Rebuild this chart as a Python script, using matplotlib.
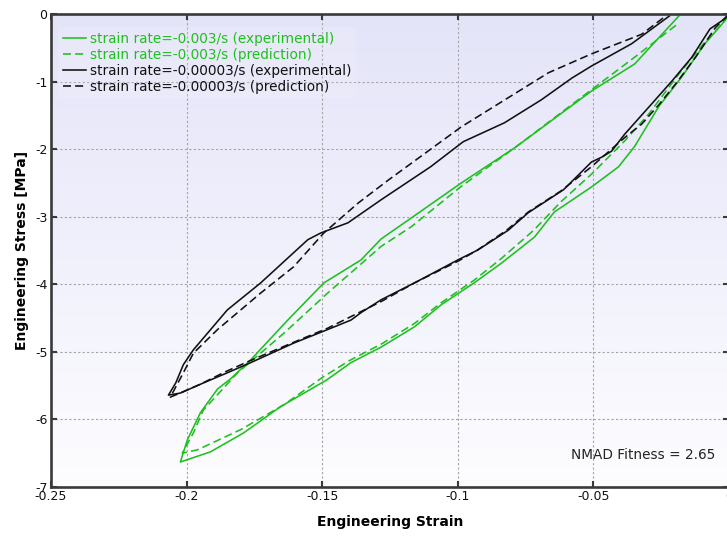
import numpy as np
import matplotlib
matplotlib.use("Agg")
import matplotlib.pyplot as plt

# ---- data ----
green_exp_x = [0.0, -0.0015, -0.0089, -0.0174, -0.0259, -0.0348, -0.0407, -0.0507, -0.0644,
               -0.0717, -0.084, -0.094, -0.106, -0.116, -0.1283, -0.1394, -0.1485, -0.1653,
               -0.179, -0.1912, -0.2023,
               -0.1997, -0.1949, -0.1886, -0.1838, -0.1764, -0.1627, -0.1494, -0.1357, -0.1283,
               -0.1172, -0.0987, -0.079, -0.0507, -0.0348, -0.0185]
green_exp_y = [0.0, -0.1, -0.44, -0.93, -1.37, -1.96, -2.26, -2.56, -2.93,
               -3.3, -3.69, -3.98, -4.3, -4.63, -4.93, -5.16, -5.42, -5.81,
               -6.2, -6.48, -6.63,
               -6.3, -5.9, -5.55, -5.4, -5.12, -4.53, -3.98, -3.64, -3.33,
               -3.02, -2.5, -1.98, -1.14, -0.74, -0.03]

green_pred_x = [0.0, -0.002, -0.009, -0.0185, -0.0296, -0.0385, -0.0507, -0.062, -0.072,
                -0.084, -0.094, -0.106, -0.116, -0.128, -0.14, -0.15, -0.164, -0.18, -0.196,
                -0.2016,
                -0.1975, -0.1938, -0.1812, -0.164, -0.148, -0.1283, -0.1172, -0.0987, -0.079,
                -0.0507, -0.0348, -0.019]
green_pred_y = [0.0, -0.12, -0.42, -0.89, -1.48, -1.88, -2.37, -2.78, -3.2,
                -3.62, -3.94, -4.27, -4.58, -4.88, -5.13, -5.38, -5.78, -6.15, -6.45,
                -6.5,
                -6.2, -5.86, -5.31, -4.72, -4.13, -3.44, -3.15, -2.55, -1.98,
                -1.12, -0.64, -0.15]

black_exp_x = [0.0, -0.0015, -0.007, -0.0137, -0.021, -0.0285, -0.0385, -0.0433, -0.047,
               -0.0507, -0.061, -0.074, -0.0814, -0.0925, -0.1, -0.116, -0.1283, -0.1357,
               -0.1394, -0.148, -0.1605, -0.1764, -0.185, -0.1938, -0.2023, -0.2067,
               -0.204, -0.2012, -0.1975, -0.185, -0.1727, -0.1553, -0.1505, -0.1405, -0.1283,
               -0.11, -0.098, -0.0828, -0.0692, -0.058, -0.0507, -0.0359, -0.022]
black_exp_y = [0.0, -0.07, -0.22, -0.64, -0.99, -1.33, -1.78, -2.03, -2.12,
               -2.19, -2.6, -2.94, -3.2, -3.49, -3.64, -3.98, -4.23, -4.42,
               -4.53, -4.67, -4.87, -5.16, -5.31, -5.46, -5.61, -5.64,
               -5.46, -5.19, -4.97, -4.38, -3.98, -3.34, -3.24, -3.09, -2.75,
               -2.26, -1.89, -1.61, -1.27, -0.95, -0.77, -0.44, -0.03]

black_pred_x = [0.0, -0.005, -0.012, -0.019, -0.026, -0.0322, -0.0385, -0.0507, -0.062,
                -0.074, -0.082, -0.093, -0.1, -0.116, -0.128, -0.138, -0.148, -0.16, -0.176,
                -0.186, -0.195, -0.203, -0.206,
                -0.2012, -0.1975, -0.1886, -0.1727, -0.1605, -0.1494, -0.1368, -0.1257,
                -0.0987, -0.0666, -0.0507, -0.0322, -0.024]
black_pred_y = [0.0, -0.2, -0.62, -1.0, -1.35, -1.63, -1.83, -2.26, -2.62,
                -2.93, -3.2, -3.5, -3.66, -3.98, -4.25, -4.45, -4.65, -4.85, -5.12,
                -5.3, -5.48, -5.62, -5.67,
                -5.31, -5.02, -4.67, -4.13, -3.74, -3.24, -2.8, -2.46,
                -1.67, -0.87, -0.59, -0.3, -0.05]

series_labels = ["strain rate=-0.003/s (experimental)",
                 "strain rate=-0.003/s (prediction)",
                 "strain rate=-0.00003/s (experimental)",
                 "strain rate=-0.00003/s (prediction)"]
x_ticks = [-0.25, -0.2, -0.15, -0.1, -0.05, 0]
x_tick_labels = ["-0.25", "-0.2", "-0.15", "-0.1", "-0.05", "0"]
y_ticks = [0, -1, -2, -3, -4, -5, -6, -7]
y_tick_labels = ["0", "-1", "-2", "-3", "-4", "-5", "-6", "-7"]
annotation = "NMAD Fitness = 2.65"

# ---- styling ----
plt.rcParams['font.family'] = ['DejaVu Sans']
GREEN = "#1ec01e"
BLACK = "#111111"
SPINE = "#3a3a3a"

W, H = 727, 536
fig = plt.figure(figsize=(W / 100, H / 100), dpi=100)
ax = fig.add_axes([51 / W, 1 - 487 / H, (729 - 51) / W, (487 - 14) / H])

# gradient background
grad = np.linspace(0, 1, 256).reshape(-1, 1)
top = np.array([228, 228, 249]) / 255
bot = np.array([253, 253, 255]) / 255
img = top[None, None, :] * (1 - grad[:, :, None]) + bot[None, None, :] * grad[:, :, None]
ax.imshow(img, extent=[-0.25, 0.0, -7, 0], aspect='auto', zorder=0, origin='upper')

lw = 1.15
dash = (5, 2.6)
ax.plot(green_exp_x, green_exp_y, color=GREEN, lw=lw, label=series_labels[0], zorder=3)
ax.plot(green_pred_x, green_pred_y, color=GREEN, lw=lw, ls=(0, dash), label=series_labels[1], zorder=3)
ax.plot(black_exp_x, black_exp_y, color=BLACK, lw=lw, label=series_labels[2], zorder=3)
ax.plot(black_pred_x, black_pred_y, color=BLACK, lw=lw, ls=(0, dash), label=series_labels[3], zorder=3)

ax.set_xlim(-0.25, 0.0)
ax.set_ylim(-7, 0)
ax.set_xticks(x_ticks)
ax.set_xticklabels(x_tick_labels)
ax.set_yticks(y_ticks)
ax.set_yticklabels(y_tick_labels)

ax.grid(True, color="#a4a4a4", lw=0.8, ls=(0, (2, 2)), zorder=1)
ax.set_axisbelow(False)
for s in ax.spines.values():
    s.set_color(SPINE)
    s.set_linewidth(1.9)
    s.set_zorder(5)
ax.tick_params(direction='in', length=4, width=1.5, color=SPINE, top=True, right=True,
               labelsize=9, pad=2.5, labelcolor="#111111")

ax.set_xlabel("Engineering Strain", fontsize=10, fontweight='bold', labelpad=8)
ax.set_ylabel("Engineering Stress [MPa]", fontsize=10, fontweight='bold', labelpad=4)

ax.text(-0.005, -6.53, annotation, ha='right', va='center', fontsize=9.8, color="#222222", zorder=4)

leg = ax.legend(loc='upper left', bbox_to_anchor=(0.009, 0.975), fontsize=9.8,
                handlelength=1.7, handletextpad=0.25, labelspacing=0.14,
                borderpad=0.35, borderaxespad=0.1, frameon=True, fancybox=False,
                facecolor='white', edgecolor='none', framealpha=0.12)
for t, c in zip(leg.get_texts(), [GREEN, GREEN, BLACK, BLACK]):
    t.set_color(c)

fig.savefig("out.png", dpi=100)
